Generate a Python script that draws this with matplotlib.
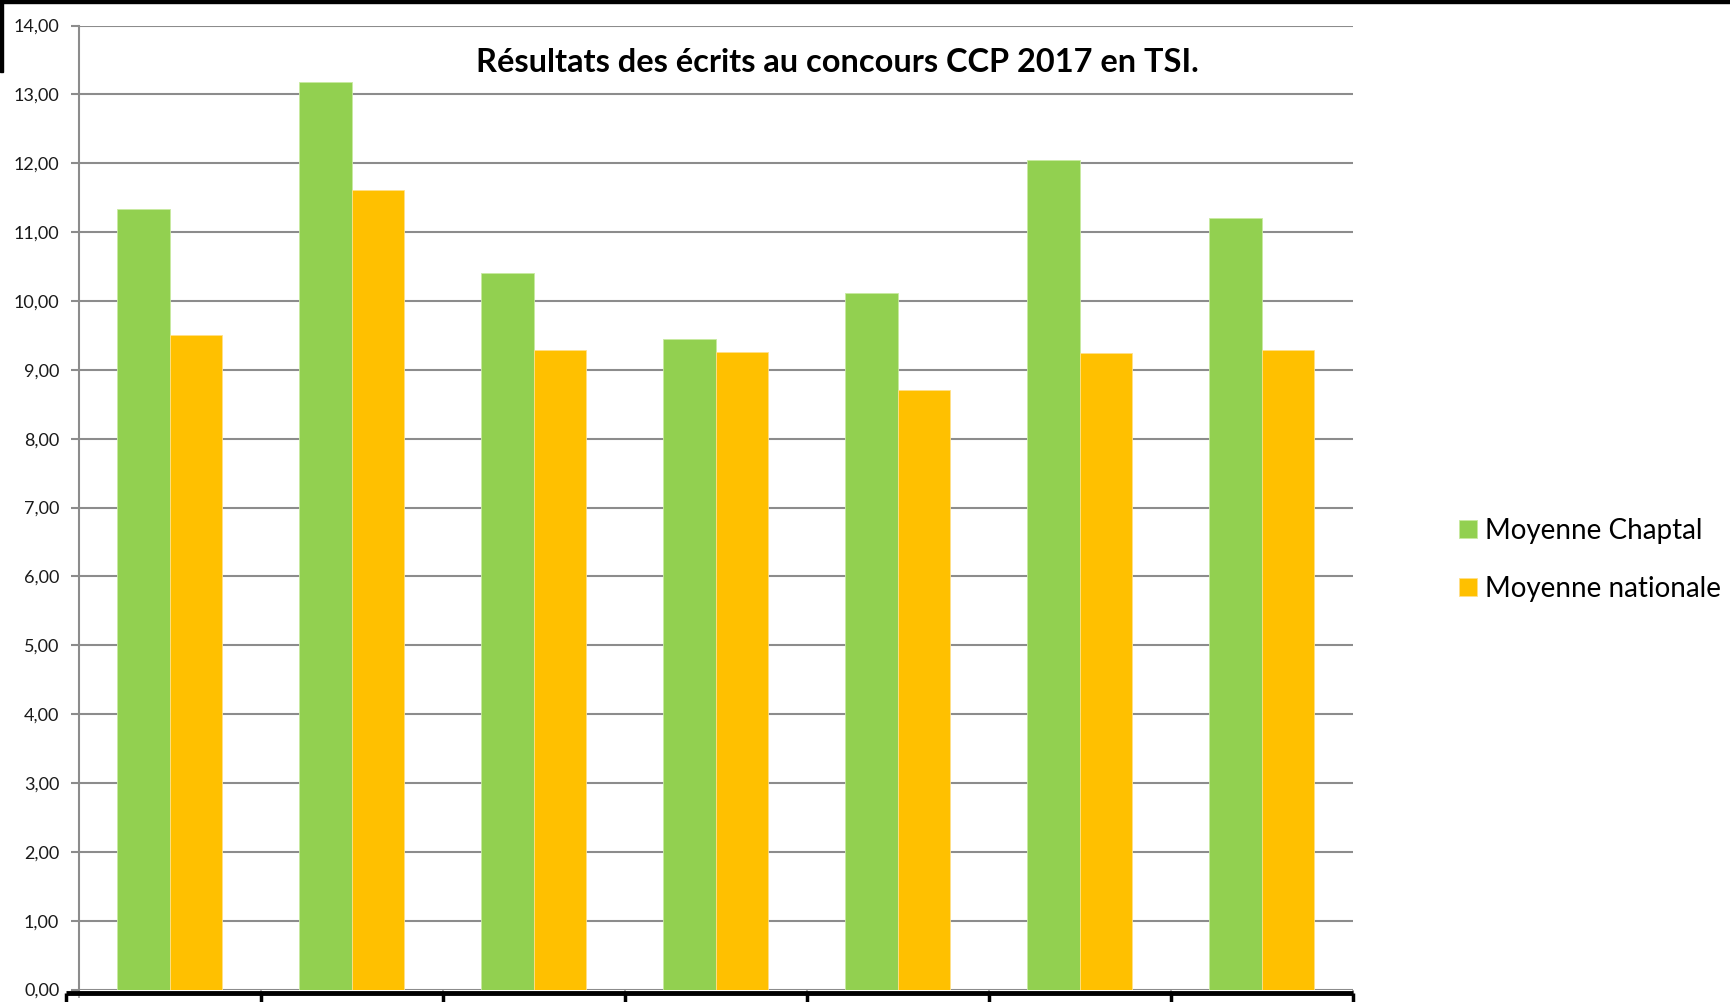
import matplotlib
matplotlib.use("Agg")
import matplotlib.pyplot as plt
import matplotlib.transforms as mtransforms
from matplotlib.patches import Rectangle
from matplotlib.lines import Line2D
import numpy as np

# ---- data ----
categories = ["1", "2", "3", "4", "5", "6", "7"]
chaptal = [11.34, 13.18, 10.40, 9.45, 10.11, 12.05, 11.21]
nationale = [9.50, 11.61, 9.29, 9.26, 8.70, 9.24, 9.29]
series_names = ["Moyenne Chaptal", "Moyenne nationale"]
yticks = [0, 1, 2, 3, 4, 5, 6, 7, 8, 9, 10, 11, 12, 13, 14]
title = "Résultats des écrits au concours CCP 2017 en TSI."

GREEN = "#92D050"
YELLOW = "#FFC000"
GRID = "#8C8C8C"

plt.rcParams['font.family'] = ['Lato', 'DejaVu Sans']

W, H = 1730, 1002
fig = plt.figure(figsize=(W / 100, H / 100), dpi=100)
fig.patch.set_facecolor("white")

ax = fig.add_axes([78.7 / W, (H - 989.5) / H, (1352.7 - 78.7) / W, (989.5 - 25.5) / H])
ax.set_facecolor("white")

x = np.arange(len(categories))
bw = 0.287
ax.bar(x - bw / 2, chaptal, width=bw, color=GREEN, edgecolor="#C8EAA0", linewidth=0.6,
       label=series_names[0], zorder=3)
ax.bar(x + bw / 2, nationale, width=bw, color=YELLOW, edgecolor="#FFE08A", linewidth=0.6,
       label=series_names[1], zorder=3)

ax.set_xlim(-0.5, len(categories) - 0.5)
ax.set_ylim(0, 14)
ax.set_yticks(yticks)
ax.set_yticklabels([f"{v:.2f}".replace(".", ",") for v in yticks], fontsize=13, color="#1a1a1a")
ax.yaxis.grid(True, color=GRID, linewidth=1.5, zorder=0)
ax.set_axisbelow(True)
ax.tick_params(axis="y", length=6, width=1.5, color=GRID, pad=8)

# category boundaries as x ticks
bounds = np.arange(len(categories) + 1) - 0.5
ax.set_xticks(bounds)
ax.set_xticklabels([""] * len(bounds))
ax.tick_params(axis="x", length=6, width=1.2, color="#A0A0A0", direction="out")

for s in ["top", "right"]:
    ax.spines[s].set_visible(False)
ax.spines["left"].set_color(GRID)
ax.spines["left"].set_linewidth(1.5)
ax.spines["bottom"].set_visible(False)

# title
fig.text(837 / W, 1 - 63 / H, title, ha="center", va="center", fontsize=23.4,
         fontweight="bold", color="black")

# legend
leg = fig.legend(loc="center left", bbox_to_anchor=(1459 / W, 1 - 560 / H), frameon=False,
                 fontsize=20, handlelength=0.63, handleheight=0.63, handletextpad=0.32,
                 labelspacing=1.16, borderaxespad=0, borderpad=0)

# data-table border cut off at the bottom (thick black line + column separators)
trans = mtransforms.blended_transform_factory(ax.transData, fig.transFigure)
y_line = 1 - 993 / H
fig.add_artist(Line2D([bounds[0] - 0.07, bounds[-1]], [y_line, y_line], transform=trans,
                      color="black", linewidth=3.5, solid_capstyle="butt"))
for b in bounds:
    bx = b if b != bounds[0] else b - 0.07
    fig.add_artist(Line2D([bx, bx], [y_line, 0], transform=trans, color="black",
                          linewidth=2.5, solid_capstyle="butt"))

# screenshot borders (black band at top, small strip on the left)
fig.add_artist(Rectangle((0, 1 - 3 / H), 1, 3 / H, transform=fig.transFigure,
                         color="black", zorder=10))
fig.add_artist(Rectangle((0, 1 - 72 / H), 3 / W, 72 / H, transform=fig.transFigure,
                         color="black", zorder=10))

fig.savefig("out.png", dpi=100, facecolor="white")
